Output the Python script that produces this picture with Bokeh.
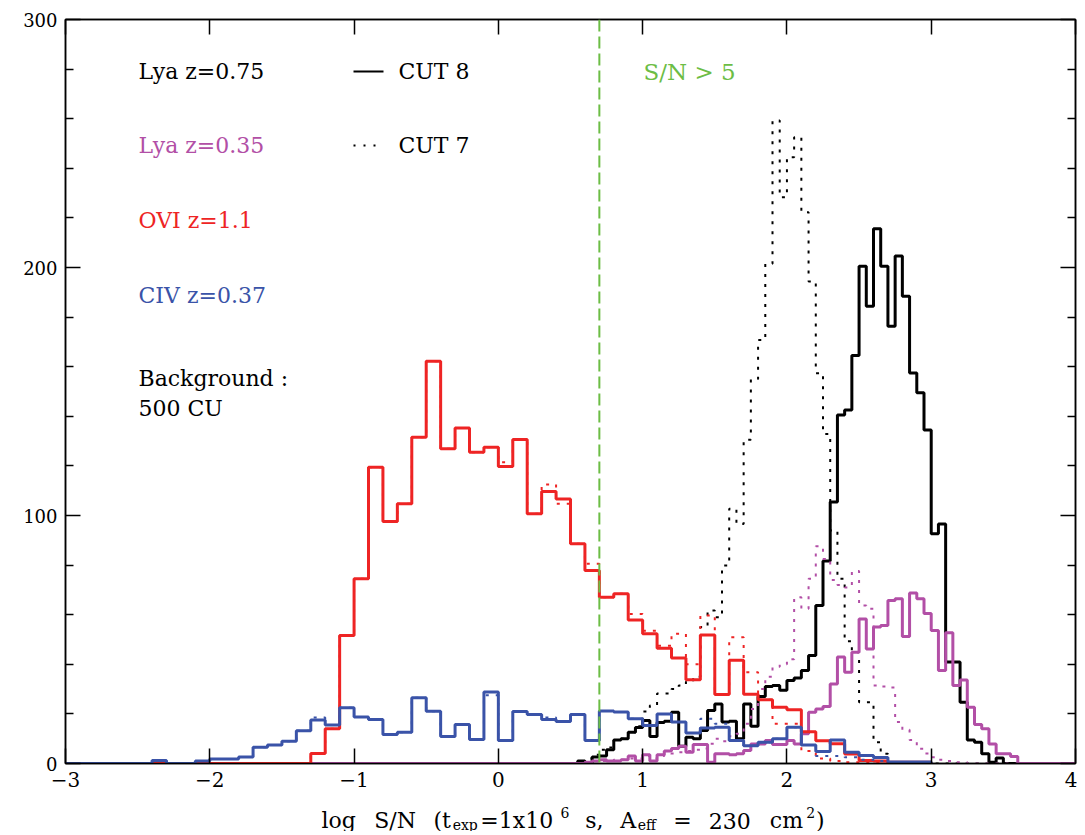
import numpy as np
from bokeh.plotting import figure
from bokeh.layouts import column
from bokeh.models import FixedTicker, LinearAxis, Span, Range1d, ColumnDataSource
from bokeh.core.properties import value
from bokeh.embed import file_html
from bokeh.resources import INLINE

# ---------------- data (histogram counts) ----------------
X_MIN, X_MAX = -3.0, 4.0
Y_MIN, Y_MAX = 0, 300

# OVI z=1.1 (red) and CIV z=0.37 (blue): bins of 0.1 from -3.0 to 3.0
RED_START, RED_WIDTH = -3.0, 0.1
red_cut8 = [0]*17 + [4, 14, 51.6, 74.5, 119.5, 97.6, 104.7, 131.6, 162.2, 126.9, 135.3, 125.5,
                     127.5, 119.8, 130.6, 100.7, 109.7, 106.7, 88.6, 77.8, 67.0, 68.4, 57.9, 52.3,
                     46.5, 42.5, 33.8, 51.8, 27.8, 41.6, 27.9, 25.7, 22.7, 21.7, 12.8, 9.2, 8.0,
                     3.8, 1.2, 1.0, 0.5, 0.5, 0.5]
red_cut7 = [0]*17 + [4, 14, 51.6, 74.5, 119.5, 97.6, 104.7, 131.6, 162.2, 126.9, 135.3, 125.5,
                     127.5, 121.5, 130.6, 100.7, 112.5, 104.7, 88.6, 80.5, 67.0, 68.4, 60.3, 53.5,
                     47.5, 52.3, 40.0, 59.7, 28.0, 50.9, 36.8, 25.7, 16.0, 16.0, 5.0, 2.0, 1.0,
                     0.5, 0.5, 0.5, 0.5, 0.5, 0.5]

BLUE_START, BLUE_WIDTH = -3.0, 0.1
blue_cut8 = [0]*6 + [1.2, 0, 0, 1.0, 1.8, 1.8, 2.6, 6.6, 7.5, 9.0, 13.2, 17.5, 15.5, 22.5, 18.7,
                     17.7, 11.7, 12.6, 26.5, 21.1, 10.9, 15.7, 9.7, 28.8, 9.3, 21.0, 19.8, 17.7,
                     16.9, 19.8, 9.3, 21.2, 20.8, 18.0, 15.3, 20.0, 16.7, 12.3, 14.3, 14.6, 9.3,
                     7.2, 8.6, 10.0, 14.6, 7.5, 4.8, 9.5, 4.5, 3.2, 2.4, 0.6, 0.6, 0.6]
blue_cut7 = [0]*6 + [1.2, 0, 0, 1.0, 1.8, 1.8, 2.6, 6.6, 7.5, 9.0, 13.2, 18.5, 15.5, 22.5, 18.7,
                     17.7, 11.7, 12.6, 26.5, 21.1, 10.9, 15.7, 9.7, 27.5, 9.3, 21.0, 19.8, 18.5,
                     16.9, 19.8, 9.3, 21.2, 20.8, 18.0, 15.3, 20.0, 16.7, 12.3, 18.0, 16.0, 9.3,
                     7.2, 8.6, 10.0, 14.6, 7.5, 3.0, 3.0, 2.5, 1.5, 1.0, 0.5, 0.5, 0.5]

# Lya z=0.75 (black) and Lya z=0.35 (magenta): bins of 0.05 starting at 0.5
BLACK_START, BLACK_WIDTH = 0.5, 0.05
black_cut8 = [0, 1, 0.3, 2.6, 3.0, 5.5, 9.5, 10, 12.6, 14.5, 17.3, 10.9, 16.5, 17, 20.7, 7, 10.6,
              10, 13.3, 21.4, 24, 16.7, 17, 10, 24, 15, 27, 31, 31.5, 29.5, 33.5, 34.5, 37.5,
              43.5, 63.7, 81.7, 105.4, 140.5, 142.5, 164.5, 200.5, 184.4, 215.6, 200.5, 176.3,
              204.6, 188.4, 157.5, 149.5, 134.5, 92.6, 96.6, 40.9, 40.9, 24.7, 9.5, 8.6, 3.9,
              0.5, 2.2, 0]
black_cut7 = [0, 1, 2, 3.5, 5.5, 6.5, 9.5, 10, 12.5, 15, 21, 23.4, 28.2, 28.2, 30, 31.5, 33, 35,
              55, 61.7, 59, 79.8, 102.7, 96.6, 130.5, 155, 170.8, 201.5, 259.3, 228.3, 244.5,
              252.5, 222.3, 194.4, 157.4, 132.9, 94, 74.5, 49.3, 44.9, 24.7, 24.7, 8.6, 3.9, 0]

MAG_START, MAG_WIDTH = 0.5, 0.05
magenta_cut8 = [0, 0, 0.5, 1, 1.5, 1, 1, 1.5, 3, 1, 3.5, 1, 3.5, 5, 6, 7, 4.5, 7.7, 7.7, 0.5,
                3.9, 3.9, 3.5, 3.9, 5.2, 7.9, 7.9, 9.3, 7.7, 7.7, 9.3, 7.9, 12, 20.7, 22, 23,
                32.1, 42.9, 36.8, 44.9, 58.3, 46.2, 55, 55.6, 65.7, 66.4, 51.2, 68.7, 66.4, 60.5,
                53.6, 37.5, 52.7, 31.5, 33.7, 22.7, 15.7, 14, 7.9, 3.9, 3.9, 2.8, 0]
magenta_cut7 = [0, 0, 0.5, 1, 1, 1, 1.5, 1.5, 2, 2, 3, 2, 3, 3.5, 4, 4.5, 5, 5.5, 6, 8, 10, 9,
                11, 12, 16, 22, 30, 35, 39, 40, 42, 67, 62.4, 74.5, 87.6, 82.5, 74, 72, 71, 77.6,
                63.7, 62.4, 31.5, 31, 30.6, 16.7, 13.6, 9.5, 5.9, 4, 2.5, 1.5, 1, 0.5, 0.5, 0]

X_TICKS = [-3, -2, -1, 0, 1, 2, 3, 4]
X_TICK_LABELS = ["\u22123", "\u22122", "\u22121", "0", "1", "2", "3", "4"]
Y_TICKS = [0, 100, 200, 300]
Y_MINOR = [20, 40, 60, 80, 120, 140, 160, 180, 220, 240, 260, 280]
SN_CUT = 0.7

LEGEND_LEFT = ["Lya z=0.75", "Lya z=0.35", "OVI z=1.1", "CIV z=0.37", "Background :", "500 CU"]
LEGEND_CUTS = ["CUT 8", "CUT 7"]
SN_TEXT = "S/N > 5"
# axis title words: (text, kind, space_before)  kind: 0 normal, -1 subscript, 1 superscript
TITLE_PIECES = [("log", 0, False), ("S/N", 0, True), ("(t", 0, True), ("exp", -1, False),
                ("=1x10", 0, False), ("6", 1, False), ("s,", 0, True), ("A", 0, True),
                ("eff", -1, False), ("=", 0, True), ("230", 0, True), ("cm", 0, True),
                ("2", 1, False), (")", 0, False)]

BLACK = "#000000"
MAGENTA = "#b24fa6"
RED = "#ee2424"
BLUE = "#3a53a8"
GREEN = "#6cbd45"
FONT = "DejaVu Serif"

# ---------------- geometry ----------------
FW, FH = 1010, 744
LEFT, TOP, RIGHT, BOTTOM = 65, 19, 2, 32
p = figure(x_range=Range1d(X_MIN, X_MAX), y_range=Range1d(Y_MIN, Y_MAX), title=None,
           frame_width=FW, frame_height=FH, output_backend="svg", toolbar_location=None,
           min_border_left=LEFT, min_border_right=RIGHT, min_border_top=TOP,
           min_border_bottom=BOTTOM)
p.grid.visible = False
p.outline_line_color = "black"
p.outline_line_width = 1.5
p.background_fill_color = "white"
p.border_fill_color = "white"

xt = FixedTicker(ticks=X_TICKS, minor_ticks=[])
yt = FixedTicker(ticks=Y_TICKS, minor_ticks=Y_MINOR)

def style_axis(ax, size, standoff):
    ax.axis_line_color = "black"
    ax.axis_line_width = 1.5
    ax.major_tick_in = 15
    ax.major_tick_out = 0
    ax.minor_tick_in = 8
    ax.minor_tick_out = 0
    ax.major_tick_line_width = 1.5
    ax.minor_tick_line_width = 1.5
    ax.major_tick_line_color = "black"
    ax.minor_tick_line_color = "black"
    ax.major_label_text_font = FONT
    ax.major_label_text_color = "black"
    ax.major_label_standoff = standoff
    ax.major_label_text_font_size = size
    ax.axis_label_standoff = 0

p.xaxis.ticker = xt
p.yaxis.ticker = yt
p.xaxis.major_label_overrides = {t: l for t, l in zip(X_TICKS, X_TICK_LABELS)}
style_axis(p.xaxis[0], "20px", 8)
style_axis(p.yaxis[0], "18px", 8)

top = LinearAxis(ticker=xt, major_label_overrides={t: "" for t in X_TICKS})
right = LinearAxis(ticker=yt, major_label_overrides={t: "" for t in Y_TICKS})
style_axis(top, "1px", 0)
style_axis(right, "1px", 0)
p.add_layout(top, "above")
p.add_layout(right, "right")


def step_xy(start, width, counts, lo, hi):
    n = len(counts)
    edges = start + width * np.arange(n + 1)
    xs = [lo] + [float(e) for e in edges[:-1]] + [float(edges[-1]), hi]
    ys = [0.0] + [float(c) for c in counts] + [0.0, 0.0]
    return xs, ys

DOT = "3 7"
# drawing order: black, magenta, red, blue (blue on top)
x, y = step_xy(BLACK_START, BLACK_WIDTH, black_cut7, X_MIN, X_MAX)
p.step(x, y, mode="after", line_color=BLACK, line_width=2, line_dash=DOT)
x, y = step_xy(BLACK_START, BLACK_WIDTH, black_cut8, X_MIN, X_MAX)
p.step(x, y, mode="after", line_color=BLACK, line_width=3)

x, y = step_xy(MAG_START, MAG_WIDTH, magenta_cut7, X_MIN, X_MAX)
p.step(x, y, mode="after", line_color=MAGENTA, line_width=2, line_dash=DOT)
x, y = step_xy(MAG_START, MAG_WIDTH, magenta_cut8, X_MIN, X_MAX)
p.step(x, y, mode="after", line_color=MAGENTA, line_width=3)

red_end = RED_START + RED_WIDTH * len(red_cut8)
x, y = step_xy(RED_START, RED_WIDTH, red_cut7, X_MIN, red_end)
p.step(x, y, mode="after", line_color=RED, line_width=2, line_dash=DOT)
x, y = step_xy(RED_START, RED_WIDTH, red_cut8, X_MIN, red_end)
p.step(x, y, mode="after", line_color=RED, line_width=3)

blue_end = BLUE_START + BLUE_WIDTH * len(blue_cut8)
x, y = step_xy(BLUE_START, BLUE_WIDTH, blue_cut7, X_MIN, blue_end)
p.step(x, y, mode="after", line_color=BLUE, line_width=2, line_dash=DOT)
x, y = step_xy(BLUE_START, BLUE_WIDTH, blue_cut8, X_MIN, blue_end)
p.step(x, y, mode="after", line_color=BLUE, line_width=3)

# S/N > 5 threshold
p.add_layout(Span(location=SN_CUT, dimension="height", line_color=GREEN, line_width=2,
                  line_dash="12 5"))

# ---------------- annotations ----------------
def px2x(px):
    return X_MIN + (px - LEFT) * (X_MAX - X_MIN) / FW

def py2y(py):
    return Y_MIN + (TOP + FH - py) * (Y_MAX - Y_MIN) / FH

left_colors = [BLACK, MAGENTA, RED, BLUE, BLACK, BLACK]
left_py = [71, 145, 220, 295, 378, 408]
p.text(x=[px2x(138)] * len(LEGEND_LEFT), y=[py2y(v) for v in left_py], text=LEGEND_LEFT,
       text_color=left_colors, text_font=value(FONT), text_font_size=value("22px"),
       text_baseline="middle", text_align="left")
p.text(x=[px2x(398)] * 2, y=[py2y(71), py2y(145)], text=LEGEND_CUTS,
       text_color=BLACK, text_font=value(FONT), text_font_size=value("22px"),
       text_baseline="middle", text_align="left")
p.text(x=[px2x(643)], y=[py2y(71)], text=[SN_TEXT], text_color=GREEN,
       text_font=value(FONT), text_font_size=value("23px"),
       text_baseline="middle", text_align="left")
# line-style keys
p.line([px2x(353), px2x(383)], [py2y(71), py2y(71)], line_color=BLACK, line_width=2)
p.line([px2x(353), px2x(380)], [py2y(145), py2y(145)], line_color=BLACK, line_width=2,
       line_dash="2 8")

# ---------------- x-axis title strip (text with sub/superscripts) ----------------
STRIP_H = 36
p2 = figure(x_range=p.x_range, y_range=Range1d(0, STRIP_H), title=None,
            frame_width=FW, frame_height=STRIP_H,
            output_backend="svg", toolbar_location=None, x_axis_type=None, y_axis_type=None,
            min_border_left=LEFT, min_border_right=RIGHT, min_border_top=0, min_border_bottom=0)
p2.grid.visible = False
p2.outline_line_color = None
p2.background_fill_color = "white"
p2.border_fill_color = "white"

W = {' ': 0.318, '(': 0.390, ')': 0.390, ',': 0.318, '/': 0.337, '=': 0.838, 'A': 0.722,
     'S': 0.687, 'N': 0.807, 'l': 0.320, 'o': 0.602, 'g': 0.635, 't': 0.402, 'e': 0.592,
     'x': 0.564, 'p': 0.640, 's': 0.513, 'f': 0.370, 'c': 0.560, 'm': 0.946}

def tw(s, size):
    return sum(W.get(ch, 0.636) for ch in s) * size

MAIN_SZ, SMALL_SZ = 22, 14
BASE_Y = 11         # baseline height in the strip (pixels from its bottom)
T_START, T_END = 321.0, 825.0
WORD_SCALE = 1.1
sizes = [MAIN_SZ if k == 0 else SMALL_SZ for _, k, _ in TITLE_PIECES]
word_total = sum(tw(s, sz) * WORD_SCALE for (s, _, _), sz in zip(TITLE_PIECES, sizes))
n_space = sum(1 for _, _, sp in TITLE_PIECES if sp)
space_w = (T_END - T_START - word_total) / n_space
xs, ys, texts, fs = [], [], [], []
cur = T_START
for (s, k, sp), sz in zip(TITLE_PIECES, sizes):
    if sp:
        cur += space_w
    xs.append(px2x(cur))
    ys.append(BASE_Y + {0: 0, -1: -4, 1: 8}[k])
    texts.append(s)
    fs.append(f"{sz}px")
    cur += tw(s, sz) * WORD_SCALE
src = ColumnDataSource(dict(x=xs, y=ys, text=texts, fs=fs))
p2.text(x="x", y="y", text="text", source=src, text_font=value(FONT), text_font_size="fs",
        text_color="black", text_baseline="alphabetic", text_align="left")

layout = column(p, p2, spacing=0)
open("out.html", "w").write(file_html(layout, INLINE))
